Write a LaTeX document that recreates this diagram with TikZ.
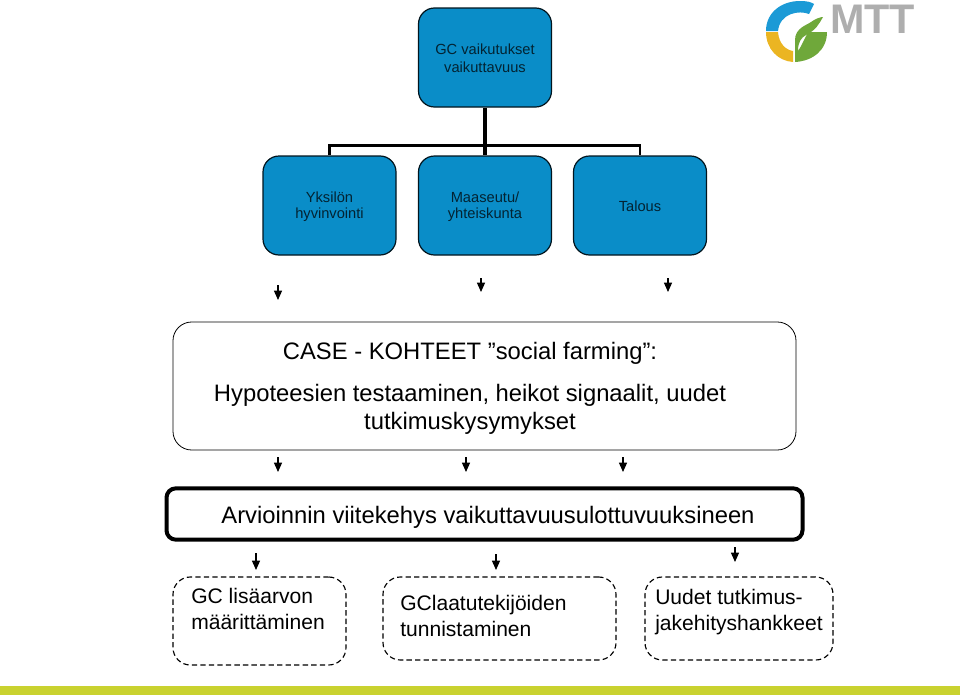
\documentclass[tikz,border=0pt]{standalone}
\usepackage{fontspec}
\setmainfont{Liberation Sans}
\usetikzlibrary{arrows.meta}
\definecolor{boxblue}{HTML}{0A8DC8}
\definecolor{barlime}{HTML}{C9D22F}
\definecolor{logoblue}{HTML}{1B9AD6}
\definecolor{logoyellow}{HTML}{EBB522}
\definecolor{logogreen}{HTML}{6FA83A}
\definecolor{logogrey}{HTML}{AEAEAE}
\tikzset{
 px/.style={x=0.75pt,y=-0.75pt},
 bluebox/.style={draw=black!85!boxblue,line width=0.9pt,fill=boxblue,rounded corners=12pt,minimum width=99.75pt,minimum height=74.25pt,inner sep=0pt},
 bluetext/.style={align=center,inner sep=0pt,font=\fontsize{11}{13.2}\selectfont,text=black!75!boxblue},
 bluetextb/.style={align=center,inner sep=0pt,font=\fontsize{11}{12}\selectfont,text=black!75!boxblue},
 casebox/.style={draw=black,line width=0.6pt,rounded corners=14pt,inner sep=0pt},
 framebox/.style={draw=black,line width=3pt,rounded corners=7pt,inner sep=0pt},
 dashbox/.style={draw=black,line width=0.85pt,dash pattern=on 4pt off 2.4pt,rounded corners=13pt,inner sep=0pt},
 bigtext/.style={align=center,inner sep=0pt,font=\fontsize{17.85}{21}\selectfont},
 smalltext/.style={align=left,inner sep=0pt,font=\fontsize{15.8}{19.5}\selectfont},
 tree/.style={line width=2.6pt,draw=black},
 treeb/.style={line width=2.2pt,draw=black},
 down/.style={-{Triangle[length=7pt,width=6pt]},line width=0.9pt},
}
\begin{document}
\begin{tikzpicture}[px]
\useasboundingbox (0,0) rectangle (960,696);
\fill[barlime] (0,686) rectangle (960,695);
% logo
\fill[logoblue] (766,31) .. controls (766,12) and (782,1) .. (800,1) .. controls (807,1) and (811,2) .. (814,4) -- (809,14) .. controls (799,10) and (780,13) .. (778,31) -- cycle;
\fill[logoyellow] (766,32) -- (778,32) .. controls (779,44) and (786,50) .. (793,51) -- (793,62) .. controls (778,61) and (766,49) .. (766,32) -- cycle;
\fill[logogreen] (795,62) -- (795,40) .. controls (795,28) and (807,25) .. (811,22) .. controls (815,19) and (820,17) .. (823,17) .. controls (819,24) and (816,30) .. (806,35) .. controls (801,38) and (798,42) .. (798,51) .. controls (803,44) and (805,36) .. (809,32) -- (827,32) .. controls (827,50) and (813,61) .. (795,62) -- cycle;
\node[inner sep=0pt,text=logogrey,anchor=center,font=\fontsize{31}{31}\selectfont\bfseries] (mtt) at (872.5,19.5) {MTT};
% boxes
\node[bluebox] (top) at (485,57.5) {};
\node[bluebox] (yk) at (329.5,205.5) {};
\node[bluebox] (ma) at (485,205.5) {};
\node[bluebox] (ta) at (640,205.5) {};
\node[bluetext] (toptext) at (485,58) {GC vaikutukset\\vaikuttavuus};
\node[bluetextb] (yktext) at (329.5,206.5) {Yksilön\\hyvinvointi};
\node[bluetextb] (matext) at (485,206.5) {Maaseutu/\\yhteiskunta};
\node[bluetextb] (tatext) at (640,206) {Talous};
\coordinate (jn) at (485,145.5);
\draw[tree] (top.south) -- (jn);
\draw[tree] (jn) -- (ma.north);
\draw[treeb] (yk.north) -- (yk.north |- jn) -- (ta.north |- jn) -- (ta.north);
% case
\node[casebox,minimum width=467.25pt,minimum height=96pt] (case) at (484.5,386) {};
\node[bigtext] (casetext) at (470,388.5) {CASE - KOHTEET ”social farming”:\\[11pt]Hypoteesien testaaminen, heikot signaalit, uudet\\tutkimuskysymykset};
% frame
\node[framebox,minimum width=477pt,minimum height=38.5pt] (frame) at (484.5,514) {};
\node[bigtext] (frametext) at (488,517.5) {Arvioinnin viitekehys vaikuttavuusulottuvuuksineen};
% dashed
\node[dashbox,minimum width=129.75pt,minimum height=66pt] (d1) at (259.5,621) {};
\node[dashbox,minimum width=174.75pt,minimum height=62.25pt] (d2) at (499.5,618.5) {};
\node[dashbox,minimum width=141pt,minimum height=62.25pt] (d3) at (739,618.5) {};
\node[smalltext,anchor=north west] (t1) at (191,588) {GC lisäarvon\\määrittäminen};
\node[smalltext,anchor=north west] (t2) at (400,595) {GClaatutekijöiden\\tunnistaminen};
\node[smalltext,anchor=north west] (t3) at (655,589) {Uudet tutkimus-\\jakehityshankkeet};
% arrows
\foreach \n/\x/\a/\b in {1/278/285/300,2/481/278/292,3/668/278/292,4/278/457/472,5/466/457/472,6/623/457/472,7/256/553/570,8/496/554/570,9/735/547/562}{
 \coordinate (s\n) at (\x,\a);
 \coordinate (e\n) at (\x,\b);
 \draw[down] (s\n) -- (e\n);
}
\end{tikzpicture}
\end{document}
